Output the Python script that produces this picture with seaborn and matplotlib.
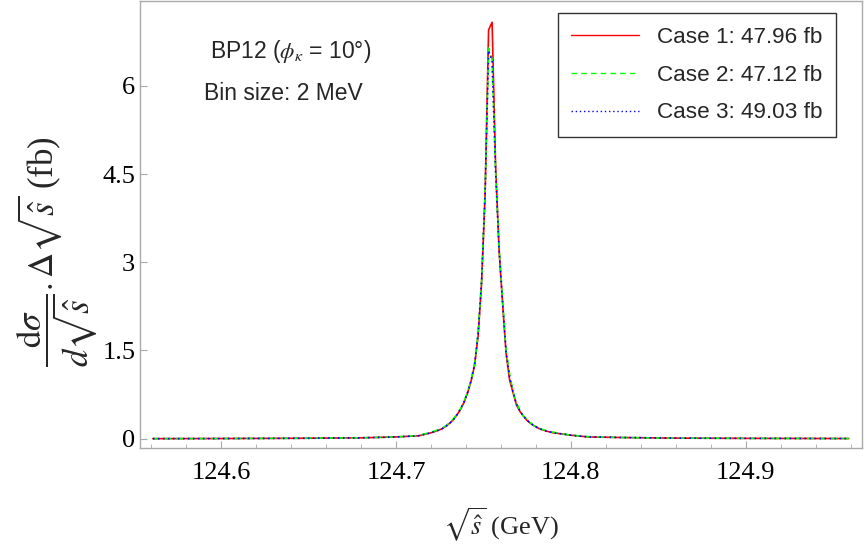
import numpy as np
import pandas as pd
import seaborn as sns
import matplotlib.pyplot as plt
from matplotlib.ticker import MultipleLocator

# sqrt(s-hat) bin centres (GeV), finer near the resonance
x_vals = [124.561, 124.60, 124.65, 124.68, 124.70, 124.713, 124.72, 124.725,
          124.727, 124.729, 124.731, 124.733, 124.735, 124.737, 124.739,
          124.741, 124.743, 124.745, 124.747, 124.749, 124.751, 124.753,
          124.755, 124.757, 124.759, 124.761, 124.763, 124.765, 124.767,
          124.769, 124.771, 124.773, 124.775, 124.777, 124.779, 124.782,
          124.786, 124.79, 124.794, 124.80, 124.81, 124.83, 124.86, 124.90,
          124.959]

case1 = [0.001, 0.003, 0.008, 0.015, 0.03, 0.05, 0.10, 0.15,
         0.18, 0.22, 0.27, 0.33, 0.41, 0.50, 0.62,
         0.78, 0.98, 1.25, 1.75, 2.65, 4.15, 6.95,
         7.08, 4.65, 3.20, 2.30, 1.45, 1.00, 0.78,
         0.57, 0.46, 0.38, 0.31, 0.26, 0.22, 0.17,
         0.13, 0.10, 0.085, 0.06, 0.03, 0.02, 0.01, 0.006,
         0.003]

case2 = [0.001, 0.003, 0.008, 0.016, 0.03, 0.055, 0.11, 0.16,
         0.19, 0.23, 0.28, 0.34, 0.42, 0.51, 0.63,
         0.80, 1.00, 1.28, 1.80, 2.70, 4.20, 6.64,
         6.45, 4.55, 3.25, 2.35, 1.50, 1.10, 0.80,
         0.60, 0.48, 0.38, 0.33, 0.27, 0.22, 0.17,
         0.14, 0.11, 0.09, 0.06, 0.035, 0.02, 0.01, 0.006,
         0.003]

case3 = [0.001, 0.003, 0.008, 0.015, 0.03, 0.05, 0.10, 0.15,
         0.18, 0.22, 0.27, 0.33, 0.41, 0.51, 0.63,
         0.79, 0.99, 1.27, 1.78, 2.68, 4.18, 6.60,
         6.42, 4.55, 3.22, 2.32, 1.48, 1.05, 0.79,
         0.58, 0.47, 0.38, 0.32, 0.26, 0.22, 0.17,
         0.13, 0.10, 0.085, 0.06, 0.03, 0.02, 0.01, 0.006,
         0.003]

labels = ['Case 1: 47.96 fb', 'Case 2: 47.12 fb', 'Case 3: 49.03 fb']

df = pd.concat([
    pd.DataFrame({'x': x_vals, 'y': case1, 'case': labels[0]}),
    pd.DataFrame({'x': x_vals, 'y': case2, 'case': labels[1]}),
    pd.DataFrame({'x': x_vals, 'y': case3, 'case': labels[2]}),
])

sns.set_style('white')
plt.rcParams['mathtext.fontset'] = 'stix'

fig = plt.figure(figsize=(8.65, 5.44), dpi=100)
ax = fig.add_axes([0.162, 0.177, 0.834, 0.821])

sns.lineplot(data=df, x='x', y='y', hue='case', style='case',
             palette=['#ff0000', '#00ff00', '#0000ff'],
             dashes=[(None, None), (4, 3), (1, 2)],
             linewidth=1.2, ax=ax, legend=False)

# legend drawn by hand to keep the Mathematica look
handles = [plt.Line2D([], [], color='#ff0000', lw=1.0),
           plt.Line2D([], [], color='#00ff00', lw=1.0, dashes=(4, 3)),
           plt.Line2D([], [], color='#0000ff', lw=1.0, dashes=(1, 2))]
leg = ax.legend(handles, labels, loc='upper right', bbox_to_anchor=(0.9645, 0.973),
                prop={'family': 'Liberation Sans', 'size': 16.2},
                frameon=True, fancybox=False, edgecolor='black',
                handlelength=3.0, handletextpad=0.8,
                labelspacing=0.75, borderpad=0.6, borderaxespad=0.0)
leg.get_frame().set_linewidth(1.0)

ax.set_xlim(124.5537, 124.9663)
ax.set_ylim(-0.153, 7.44)
ax.set_xticks([124.6, 124.7, 124.8, 124.9])
ax.xaxis.set_minor_locator(MultipleLocator(0.02))
ax.set_yticks([0, 1.5, 3, 4.5, 6])
ax.set_yticklabels(['0', '1.5', '3', '4.5', '6'])

for s in ax.spines.values():
    s.set_color('#aaaaaa')
    s.set_linewidth(1.0)
ax.tick_params(which='major', direction='in', length=5, color='#aaaaaa',
               labelsize=19, labelcolor='black', bottom=True, left=True)
ax.tick_params(axis='x', which='major', pad=10)
ax.tick_params(which='minor', direction='in', length=3, color='#aaaaaa', bottom=True)
for t in ax.get_xticklabels() + ax.get_yticklabels():
    t.set_family('Liberation Serif')

ax.set_xlabel(r'$\sqrt{\hat{s}}$ (GeV)', fontsize=19, family='Liberation Serif', labelpad=16)
ax.set_ylabel(r'$\dfrac{\mathrm{d}\sigma}{d\sqrt{\hat{s}}}.\Delta\sqrt{\hat{s}}$ (fb)',
              fontsize=25, family='Liberation Serif')
ax.yaxis.set_label_coords(-0.055, 0.44)

ax.text(0.209, 0.888, r'BP12 ($\phi_\kappa$ = 10°)', transform=ax.transAxes,
        ha='center', va='center', fontsize=16.5, family='Liberation Sans')
ax.text(0.198, 0.794, 'Bin size: 2 MeV', transform=ax.transAxes,
        ha='center', va='center', fontsize=16.5, family='Liberation Sans')

fig.savefig('out.png', dpi=100)
